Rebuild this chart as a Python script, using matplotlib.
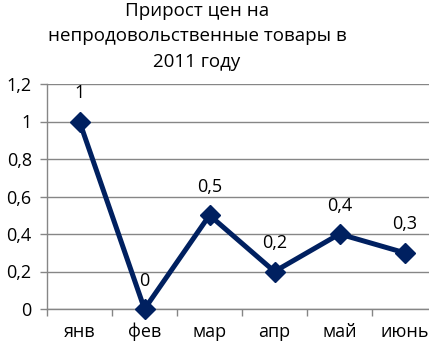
import matplotlib
matplotlib.use("Agg")
import matplotlib.pyplot as plt
from matplotlib.ticker import FuncFormatter

categories = ["янв", "фев", "мар", "апр", "май", "июнь"]
values = [1, 0, 0.5, 0.2, 0.4, 0.3]
yticks = [0, 0.2, 0.4, 0.6, 0.8, 1.0, 1.2]
title = "Прирост цен на\nнепродовольственные товары в\n2011 году"

plt.rcParams['font.family'] = ['Open Sans', 'DejaVu Sans']

def fmt(v):
    s = ("%.1f" % v).rstrip('0').rstrip('.')
    return s.replace('.', ',')

fs = 13
fig = plt.figure(figsize=(4.29, 3.52), dpi=100)
ax = fig.add_axes([47/429, 1-309/352, 390/429, (309-84)/352])
x = list(range(len(categories)))
color = "#002060"
ax.plot(x, values, color=color, lw=3.6, marker='D', markersize=10, zorder=3, clip_on=False)
for xi, v in zip(x, values):
    ax.annotate(fmt(v), (xi, v), xytext=(0, 14), textcoords='offset points',
                ha='center', va='bottom', fontsize=fs, color='black')

ax.set_xlim(-0.5, len(categories) - 0.5)
ax.set_ylim(0, 1.2)
ax.set_yticks(yticks)
ax.yaxis.set_major_formatter(FuncFormatter(lambda v, p: fmt(v)))
ax.set_xticks([i - 0.5 for i in range(len(categories) + 1)])
ax.set_xticklabels([])
ax.set_xticks(x, minor=True)
ax.set_xticklabels(categories, minor=True)
ax.tick_params(axis='x', which='minor', length=0, pad=10, labelsize=fs)
ax.tick_params(axis='x', which='major', length=5, color='#868686', width=1)
ax.tick_params(axis='y', length=5, color='#868686', width=1, labelsize=fs, pad=6)
ax.grid(axis='y', color='#868686', lw=1)
ax.set_axisbelow(True)
for s in ['top', 'right']:
    ax.spines[s].set_visible(False)
for s in ['left', 'bottom']:
    ax.spines[s].set_color('#868686')
    ax.spines[s].set_linewidth(1)

fig.text(197/429, 1 - 2/352, title, ha='center', va='top',
         fontsize=fs + 0.5, linespacing=1.52)
fig.savefig("out.png", dpi=100)
